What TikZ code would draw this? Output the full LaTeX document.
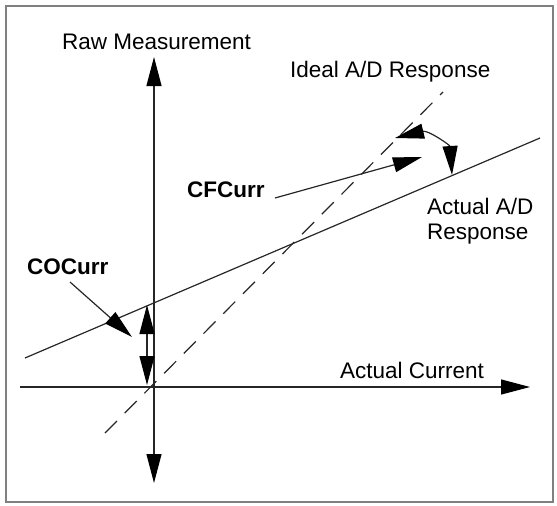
\documentclass[tikz,border=0pt]{standalone}
\usepackage{fontspec}
\setmainfont{Liberation Sans}
\usetikzlibrary{arrows.meta}
\begin{document}
\begin{tikzpicture}[x=1pt,y=-1pt,
  lbl/.style={inner sep=0pt,font=\fontsize{22.5}{25}\selectfont},
  blbl/.style={lbl,font=\fontsize{22.5}{25}\selectfont\bfseries},
  ln/.style={line width=1.2pt,draw=black!85},
  tip/.style={-{Triangle[length=29pt,width=15pt,color=black]}},
  dtip/.style={{Triangle[length=29pt,width=15pt,color=black]}-{Triangle[length=29pt,width=15pt,color=black]}},
  ideal/.style={ln,dash pattern=on 17pt off 11pt}]
\useasboundingbox (0,0) rectangle (557,506);
\draw[draw=black!50,line width=2pt] (6,6) rectangle (553,502);
% coordinates
\coordinate (vtop) at (154,57);
\coordinate (vbot) at (154,483);
\coordinate (hl) at (20,387);
\coordinate (hr) at (530,387);
\coordinate (a1) at (25,358);
\coordinate (a2) at (540,138);
\coordinate (i1) at (105,433);
\coordinate (i2) at (443,92);
\coordinate (c1) at (147,305);
\coordinate (c2) at (147,385);
\coordinate (cos) at (70,282);
\coordinate (cot) at (132,337);
\coordinate (cfs) at (275,198);
\coordinate (cft) at (422,157);
\coordinate (r1) at (395,138);
\coordinate (r2) at (452,175);
% axes
\draw[ln,dtip] (vtop) -- (vbot);
\draw[ln,tip] (hl) -- (hr);
% lines
\draw[ln] (a1) -- (a2);
\draw[ideal] (i1) -- (i2);
% arrows
\draw[ln,dtip] (c1) -- (c2);
\draw[ln,tip] (cos) -- (cot);
\draw[ln,tip] (cfs) -- (cft);
\draw[ln,dtip] (r1) .. controls (428,130) and (450,145) .. (r2);
% labels
\node[lbl,anchor=west] (raw) at (62,42) {Raw Measurement};
\node[lbl,anchor=west] (ideallbl) at (290,72) {Ideal A/D Response};
\node[lbl,anchor=west] (cur) at (340,370) {Actual Current};
\node[lbl,anchor=north west,align=left] (act) at (427,198) {Actual A/D\\Response};
\node[blbl,anchor=west] (co) at (27,267) {COCurr};
\node[blbl,anchor=west] (cf) at (187,190) {CFCurr};
\end{tikzpicture}
\end{document}
